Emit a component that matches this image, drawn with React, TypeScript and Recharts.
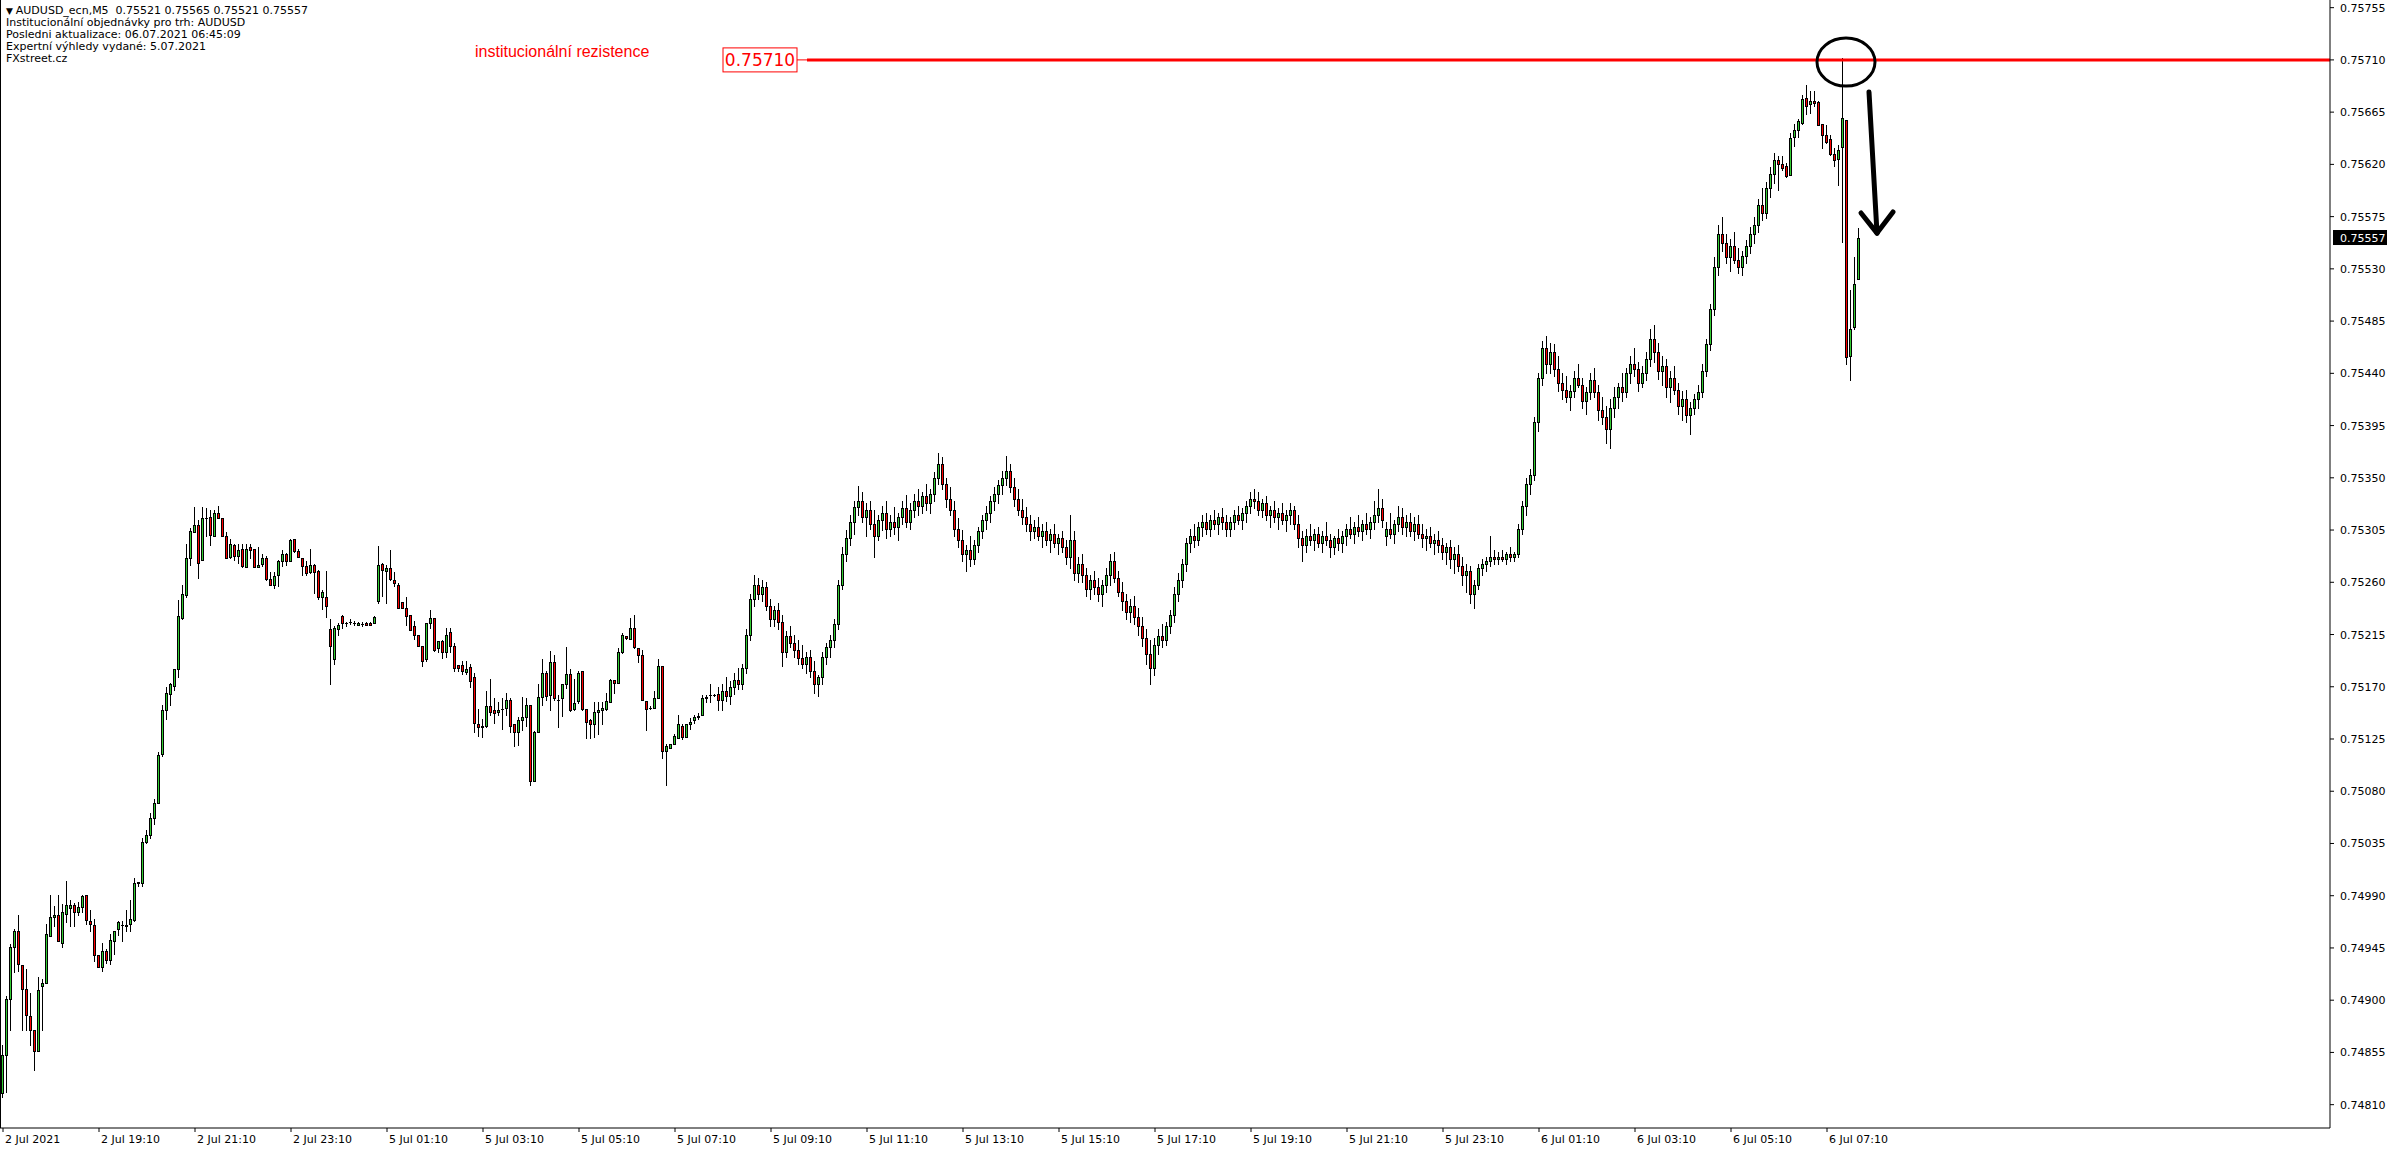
import React from 'react';
import { ComposedChart, Bar, XAxis, YAxis, ReferenceLine, ReferenceDot } from 'recharts';

// AUDUSD M5 candles as [open, high, low, close] in points (1e-5)
// Friday 2 Jul 17:10 - 23:55
const FRI_2JUL = [
[74820,74861,74817,74853],[74853,74904,74821,74901],[74901,74948,74874,74946],[74946,74961,74924,74960],[74960,74973,74925,74931],
[74930,74930,74874,74910],[74910,74927,74874,74887],[74886,74906,74861,74874],[74874,74874,74840,74856],[74856,74920,74856,74909],
[74912,74918,74874,74915],[74915,74966,74915,74957],[74955,74991,74955,74972],[74972,74981,74964,74973],[74973,74991,74951,74951],
[74949,74983,74946,74976],[74974,75003,74967,74982],[74979,74986,74964,74982],[74982,74984,74964,74976],[74976,74985,74973,74980],
[74980,74991,74976,74990],[74991,74991,74966,74969],[74968,74978,74960,74966],[74965,74970,74934,74939],[74939,74939,74929,74929],
[74929,74949,74925,74942],[74942,74944,74932,74935],[74935,74957,74931,74952],[74951,74960,74940,74960],[74961,74968,74956,74967],
[74965,74968,74951,74965],[74965,74978,74960,74964],[74966,74986,74960,74970],[74969,75005,74968,75001],[75001,75002,74998,75002],
[75001,75040,74998,75036],[75036,75047,75035,75042],[75042,75061,75040,75057],[75057,75073,75052,75070],[75070,75114,75070,75111],
[75112,75154,75110,75150],[75150,75170,75142,75165],[75164,75173,75154,75172],[75171,75185,75167,75185],[75185,75245,75178,75231],
[75229,75258,75228,75250],[75249,75293,75247,75281],[75281,75307,75275,75304],[75303,75325,75303,75309],[75309,75314,75264,75277],
[75279,75325,75279,75315],[75315,75324,75300,75315],[75316,75322,75292,75301],[75300,75322,75300,75320],[75320,75326,75315,75315],
[75315,75315,75300,75300],[75300,75303,75281,75281],[75282,75297,75281,75293],[75292,75293,75279,75283],[75283,75293,75277,75288],
[75289,75293,75273,75274],[75273,75293,75273,75289],[75290,75293,75281,75288],[75289,75289,75273,75273],[75273,75290,75273,75275],
[75276,75284,75274,75281],[75281,75283,75262,75263],[75263,75269,75258,75258],[75258,75269,75255,75265],[75266,75279,75257,75278],
[75278,75288,75274,75284],[75284,75285,75275,75278],[75278,75297,75278,75296],[75297,75297,75286,75287],[75287,75289,75282,75282],
[75281,75281,75266,75274],[75274,75278,75266,75268],[75269,75289,75268,75275],[75275,75276,75251,75269],[75270,75271,75246,75247],
[75247,75253,75237,75252],[75247,75270,75230,75240],
];
// Monday 5 Jul 00:00 - 23:55
const MON_5JUL = [
[75220,75228,75172,75205],[75194,75222,75190,75221],[75220,75225,75215,75223],[75231,75232,75221,75225],[75225,75226,75222,75225],
[75226,75228,75224,75226],[75225,75227,75223,75225],[75223,75226,75223,75225],[75224,75226,75222,75224],[75225,75226,75223,75223],
[75225,75226,75223,75223],[75225,75231,75225,75230],[75244,75291,75242,75275],[75276,75277,75248,75271],[75270,75275,75242,75272],
[75272,75288,75262,75263],[75262,75269,75257,75259],[75258,75259,75238,75238],[75243,75243,75238,75238],[75238,75247,75223,75231],
[75232,75232,75219,75219],[75222,75227,75211,75215],[75215,75215,75205,75205],[75205,75205,75188,75192],[75194,75225,75192,75225],
[75225,75236,75221,75229],[75229,75229,75201,75202],[75203,75209,75200,75209],[75209,75210,75195,75200],[75200,75221,75196,75215],
[75217,75221,75200,75205],[75205,75208,75184,75186],[75189,75189,75184,75186],[75189,75192,75181,75184],[75183,75192,75181,75185],
[75187,75190,75170,75175],[75178,75182,75131,75139],[75138,75151,75128,75135],[75135,75142,75127,75136],[75136,75166,75135,75153],
[75153,75177,75146,75148],[75150,75160,75139,75147],[75148,75157,75146,75150],[75151,75160,75134,75151],[75152,75165,75146,75159],
[75159,75160,75131,75136],[75138,75138,75119,75131],[75131,75144,75120,75141],[75141,75161,75133,75144],[75144,75160,75136,75154],
[75154,75154,75085,75089],[75089,75132,75089,75131],[75131,75172,75131,75161],[75161,75194,75154,75182],[75182,75184,75159,75162],
[75163,75201,75150,75191],[75191,75197,75159,75160],[75159,75163,75135,75159],[75160,75172,75145,75172],[75172,75204,75169,75181],
[75181,75185,75149,75150],[75151,75177,75150,75156],[75158,75184,75156,75182],[75184,75184,75150,75151],[75151,75151,75126,75140],
[75141,75142,75126,75138],[75138,75157,75127,75148],[75148,75157,75129,75150],[75150,75157,75138,75152],[75151,75165,75150,75158],
[75157,75177,75157,75176],[75176,75176,75165,75173],[75173,75203,75173,75200],[75200,75216,75199,75215],[75214,75214,75211,75212],
[75211,75229,75211,75221],[75221,75232,75203,75204],[75203,75203,75191,75197],[75197,75202,75159,75159],[75158,75158,75133,75151],
[75152,75153,75151,75152],[75152,75166,75152,75160],[75160,75194,75160,75188],[75188,75188,75109,75115],[75115,75121,75085,75119],
[75117,75121,75117,75121],[75121,75129,75121,75128],[75126,75146,75126,75138],[75136,75138,75125,75127],[75127,75138,75127,75138],
[75138,75143,75134,75140],[75141,75146,75139,75144],[75144,75147,75142,75145],[75146,75163,75146,75160],[75160,75163,75157,75161],
[75163,75172,75157,75163],[75163,75164,75162,75163],[75164,75170,75150,75159],[75159,75172,75150,75166],[75166,75178,75158,75162],
[75162,75175,75155,75170],[75170,75182,75164,75176],[75176,75186,75168,75172],[75172,75190,75168,75186],[75186,75220,75182,75215],
[75215,75250,75210,75246],[75246,75266,75240,75258],[75258,75264,75246,75250],[75250,75262,75244,75256],[75256,75260,75236,75240],
[75240,75246,75222,75228],[75228,75240,75222,75236],[75236,75242,75220,75226],[75226,75232,75188,75200],[75200,75218,75196,75214],
[75214,75222,75204,75208],[75208,75215,75196,75202],[75202,75210,75190,75195],[75195,75206,75186,75190],[75190,75200,75182,75196],
[75196,75202,75178,75184],[75184,75192,75165,75172],[75172,75180,75162,75178],[75178,75200,75172,75196],[75196,75208,75190,75204],
[75204,75215,75196,75210],[75210,75228,75204,75224],[75224,75262,75220,75258],[75258,75290,75254,75284],[75284,75305,75278,75298],
[75298,75318,75292,75312],[75312,75330,75302,75325],[75325,75343,75318,75330],[75330,75338,75312,75316],[75316,75328,75300,75322],
[75322,75330,75306,75310],[75310,75322,75282,75300],[75300,75318,75296,75314],[75314,75326,75305,75320],[75320,75330,75298,75306],
[75306,75318,75300,75312],[75312,75325,75302,75308],[75308,75320,75296,75316],[75316,75330,75310,75324],[75324,75335,75308,75312],
[75312,75328,75306,75322],[75322,75336,75316,75330],[75330,75340,75318,75326],[75326,75338,75320,75334],[75334,75345,75322,75328],
[75328,75340,75320,75336],[75336,75355,75330,75350],[75350,75371,75345,75362],[75362,75368,75340,75345],[75345,75350,75325,75332],
[75332,75342,75318,75322],[75322,75330,75300,75306],[75306,75315,75290,75296],[75296,75305,75278,75284],[75284,75292,75270,75288],
[75288,75300,75274,75280],[75280,75296,75276,75292],[75292,75308,75286,75304],[75304,75318,75298,75314],[75314,75326,75306,75320],
[75320,75334,75312,75330],[75330,75342,75322,75336],[75336,75348,75328,75344],[75344,75356,75336,75350],[75350,75369,75344,75356],
[75356,75362,75338,75342],[75342,75350,75326,75332],[75332,75340,75318,75322],[75322,75332,75310,75316],[75316,75325,75304,75310],
[75310,75318,75296,75304],[75304,75314,75298,75308],[75308,75316,75296,75300],[75300,75310,75290,75304],[75304,75312,75292,75296],
[75296,75306,75286,75302],[75302,75310,75290,75294],[75294,75302,75284,75298],[75298,75304,75286,75290],[75290,75296,75276,75282],
[75282,75318,75272,75296],[75296,75304,75262,75268],[75268,75282,75260,75276],[75276,75284,75260,75266],[75266,75272,75248,75254],
[75254,75266,75246,75262],[75262,75270,75250,75256],[75256,75264,75244,75250],[75250,75262,75240,75258],[75258,75272,75252,75266],
[75266,75284,75258,75278],[75278,75286,75260,75264],[75264,75270,75248,75252],[75252,75260,75236,75244],[75244,75250,75228,75234],
[75234,75246,75226,75240],[75240,75248,75224,75230],[75230,75238,75215,75222],[75222,75230,75205,75212],[75212,75220,75190,75198],
[75198,75210,75172,75186],[75186,75212,75180,75206],[75206,75220,75198,75214],[75214,75224,75204,75210],[75210,75226,75206,75222],
[75222,75236,75216,75232],[75232,75256,75226,75250],[75250,75268,75244,75262],[75262,75280,75256,75276],[75276,75298,75270,75294],
[75294,75306,75286,75300],[75300,75310,75290,75296],[75296,75312,75292,75308],[75308,75318,75300,75312],[75312,75320,75302,75306],
[75306,75318,75300,75314],[75314,75322,75306,75310],[75310,75320,75302,75316],[75316,75324,75306,75312],[75312,75318,75300,75306],
[75306,75316,75300,75312],[75312,75322,75306,75318],[75318,75326,75310,75314],[75314,75324,75306,75320],[75320,75330,75312,75326],
[75326,75338,75320,75332],[75332,75340,75324,75330],[75330,75338,75318,75322],[75322,75332,75316,75328],[75328,75334,75314,75318],
[75318,75326,75308,75322],[75322,75330,75312,75316],[75316,75324,75306,75320],[75320,75328,75310,75314],[75314,75322,75304,75318],
[75318,75328,75310,75322],[75322,75326,75306,75310],[75310,75318,75290,75298],[75298,75304,75278,75292],[75292,75306,75286,75300],
[75300,75310,75292,75296],[75296,75306,75288,75302],[75302,75308,75290,75294],[75294,75304,75286,75300],[75300,75312,75292,75296],
[75296,75302,75282,75290],[75290,75300,75284,75298],[75298,75306,75288,75294],[75294,75304,75286,75300],[75300,75310,75292,75306],
[75306,75316,75298,75302],[75302,75312,75294,75308],[75308,75318,75300,75304],[75304,75314,75296,75310],[75310,75320,75302,75306],
[75306,75316,75298,75312],[75312,75330,75306,75318],[75318,75340,75312,75324],[75324,75332,75308,75314],[75300,75312,75292,75306],
[75306,75320,75298,75302],[75302,75314,75294,75310],[75310,75326,75304,75316],[75316,75324,75302,75308],[75308,75318,75300,75312],
[75312,75320,75300,75304],[75304,75316,75296,75310],[75310,75318,75298,75302],[75302,75310,75290,75298],[75298,75306,75288,75300],
[75300,75308,75290,75294],[75294,75302,75284,75296],[75296,75304,75286,75292],[75292,75298,75280,75286],[75286,75294,75276,75290],
[75290,75296,75272,75280],[75280,75290,75268,75284],[75284,75292,75270,75274],[75274,75282,75258,75266],[75266,75276,75252,75270],
[75270,75274,75242,75250],[75250,75262,75238,75258],[75258,75276,75254,75272],
];
// Tuesday 6 Jul 00:00 - 07:50
const TUE_6JUL = [
[75272,75280,75266,75276],[75276,75282,75270,75278],[75278,75300,75274,75282],[75282,75288,75276,75280],[75280,75286,75276,75282],
[75282,75288,75278,75280],[75280,75286,75276,75284],[75284,75290,75278,75282],[75282,75286,75278,75284],[75284,75310,75282,75306],
[75306,75330,75302,75326],[75326,75350,75318,75345],[75345,75358,75336,75352],[75352,75402,75348,75398],[75398,75440,75390,75436],
[75436,75468,75430,75462],[75462,75472,75440,75448],[75448,75466,75440,75458],[75458,75465,75438,75444],[75444,75455,75425,75432],
[75432,75440,75418,75426],[75426,75438,75415,75420],[75420,75430,75408,75425],[75425,75442,75420,75436],[75436,75448,75428,75430],
[75430,75436,75410,75416],[75416,75428,75405,75424],[75424,75440,75418,75434],[75434,75445,75420,75424],[75424,75430,75400,75408],
[75408,75420,75396,75402],[75402,75412,75380,75392],[75392,75418,75376,75410],[75410,75428,75402,75420],[75420,75432,75410,75428],
[75428,75440,75416,75424],[75424,75445,75420,75440],[75440,75455,75432,75448],[75448,75462,75438,75444],[75444,75450,75425,75432],
[75432,75446,75428,75440],[75440,75458,75434,75452],[75452,75478,75446,75470],[75470,75482,75450,75458],[75458,75466,75435,75442],
[75442,75455,75430,75446],[75446,75452,75420,75428],[75428,75442,75415,75436],[75436,75446,75422,75426],[75426,75432,75405,75412],
[75412,75425,75400,75418],[75418,75426,75398,75404],[75404,75415,75388,75410],[75410,75422,75405,75418],[75418,75430,75410,75424],
[75424,75448,75420,75442],[75442,75470,75438,75465],[75465,75500,75460,75495],[75495,75540,75490,75532],[75532,75568,75525,75560],
[75560,75575,75545,75552],[75552,75560,75535,75540],[75540,75556,75528,75550],[75550,75562,75535,75538],[75538,75548,75526,75532],
[75532,75545,75525,75541],[75541,75555,75535,75550],[75550,75566,75544,75560],[75560,75575,75552,75568],[75568,75590,75562,75585],
[75585,75600,75572,75578],[75578,75605,75574,75600],[75600,75618,75592,75612],[75612,75630,75604,75624],[75624,75627,75598,75620],
[75620,75627,75615,75617],[75619,75621,75609,75610],[75611,75647,75611,75643],[75644,75655,75636,75650],[75650,75659,75644,75657],
[75656,75680,75655,75676],[75677,75688,75663,75670],[75672,75683,75664,75675],[75675,75683,75670,75673],[75674,75675,75654,75654],
[75655,75655,75634,75645],[75645,75654,75638,75639],[75642,75645,75628,75629],[75629,75634,75619,75624],[75625,75637,75602,75632],
[75635,75712,75553,75660],[75658,75658,75448,75454],[75455,75512,75434,75478],[75480,75540,75478,75517],[75521,75565,75521,75557],
];

const Y_TICKS = [0.7481,0.74855,0.749,0.74945,0.7499,0.75035,0.7508,0.75125,0.7517,0.75215,0.7526,0.75305,0.7535,0.75395,0.7544,0.75485,0.7553,0.75575,0.7562,0.75665,0.7571,0.75755];
const X_TICK_BARS = [0,24,48,72,96,120,144,168,192,216,240,264,288,312,336,360,384,408,432,456];
const X_TICK_LABELS = ['2 Jul 2021','2 Jul 19:10','2 Jul 21:10','2 Jul 23:10','5 Jul 01:10','5 Jul 03:10','5 Jul 05:10','5 Jul 07:10','5 Jul 09:10','5 Jul 11:10','5 Jul 13:10','5 Jul 15:10','5 Jul 17:10','5 Jul 19:10','5 Jul 21:10','5 Jul 23:10','6 Jul 01:10','6 Jul 03:10','6 Jul 05:10','6 Jul 07:10'];
const HEADER = ['AUDUSD_ecn,M5  0.75521 0.75565 0.75521 0.75557','Institucionální objednávky pro trh: AUDUSD','Posledni aktualizace: 06.07.2021 06:45:09','Expertní výhledy vydané: 5.07.2021','FXstreet.cz'];
const RESISTANCE = 0.7571;
const LAST_PRICE = 0.75557;

const CANDLES = [...FRI_2JUL, ...MON_5JUL, ...TUE_6JUL];
const data = CANDLES.map(([o, h, l, c], i) => ({
  i,
  o: o / 1e5,
  h: h / 1e5,
  l: l / 1e5,
  c: c / 1e5,
  range: [l / 1e5, h / 1e5],
}));

const BULL = '#32CD32';
const BEAR = '#FF0000';
const FONT = '"DejaVu Sans", sans-serif';

const Candle = (props: any) => {
  const { x, y, width, height, payload } = props;
  if (payload == null || x == null) return null;
  const { o, h, l, c } = payload;
  const cx = Math.round(x + width / 2) - 1;
  const k = h > l ? height / (h - l) : 0;
  const py = (p: number) => y + (h - p) * k;
  const yh = Math.round(py(h));
  const yl = Math.round(py(l));
  const bt = Math.round(py(Math.max(o, c)));
  const bb = Math.round(py(Math.min(o, c)));
  const bull = c >= o;
  return (
    <g>
      <line x1={cx + 0.5} x2={cx + 0.5} y1={yh} y2={yl + 1} stroke="#000" strokeWidth={1} />
      {bb - bt < 1 ? (
        <line x1={cx - 1} x2={cx + 2} y1={bt + 0.5} y2={bt + 0.5} stroke="#000" strokeWidth={1} />
      ) : (
        <rect x={cx - 0.5} y={bt + 0.5} width={2} height={bb - bt} fill={bull ? BULL : BEAR} stroke="#000" strokeWidth={1} />
      )}
    </g>
  );
};

const XTick = (props: any) => {
  const { x, y, payload } = props;
  const idx = X_TICK_BARS.indexOf(payload.value);
  return (
    <text x={x + 2} y={y + 9} textAnchor="start" fontFamily={FONT} fontSize={11} fill="#000">
      {X_TICK_LABELS[idx]}
    </text>
  );
};

const YTick = (props: any) => {
  const { x, y, payload } = props;
  return (
    <text x={x} y={y + 4} textAnchor="start" fontFamily={FONT} fontSize={11} fill="#000">
      {Number(payload.value).toFixed(5)}
    </text>
  );
};

const Ellipse = (props: any) => (
  <ellipse cx={props.cx} cy={props.cy} rx={29} ry={24} fill="none" stroke="#000" strokeWidth={3} />
);

const ResLabel = (props: any) => (
  <g>
    <rect x={props.cx - 74} y={props.cy - 12} width={74} height={24} fill="#fff" stroke="#FF0000" strokeWidth={1} />
    <text x={props.cx - 37} y={props.cy + 6} textAnchor="middle" fontFamily={FONT} fontSize={17} fill="#FF0000">
      {RESISTANCE.toFixed(5)}
    </text>
    <line x1={props.cx} x2={props.cx + 10} y1={props.cy} y2={props.cy} stroke="#FF0000" strokeWidth={1} />
  </g>
);

const ResText = (props: any) => (
  <text x={props.cx} y={props.cy + 5} textAnchor="start" fontFamily='"Liberation Sans", Arial, sans-serif' fontSize={16} fill="#FF0000">
    institucionální rezistence
  </text>
);

const LastPriceLabel = (props: any) => {
  const vb = props.viewBox || {};
  const x0 = vb.x + vb.width + 3;
  const yc = vb.y;
  return (
    <g>
      <rect x={x0} y={yc - 7.5} width={54} height={15} fill="#000" />
      <text x={x0 + 7} y={yc + 4} fontFamily={FONT} fontSize={11} fill="#fff">{LAST_PRICE.toFixed(5)}</text>
    </g>
  );
};

export default function App() {
  return (
    <div style={{ position: 'relative', width: 2396, height: 1154, background: '#fff' }}>
      <style>{'body{margin:0;background:#fff;}'}</style>
      <ComposedChart width={2396} height={1154} data={data} margin={{ top: 0, right: 0, bottom: 0, left: 0 }} barSize={3}>
        <XAxis
          dataKey="i"
          type="number"
          domain={[-0.75, 581.75]}
          ticks={X_TICK_BARS}
          tick={<XTick />}
          height={26}
          axisLine={{ stroke: '#000' }}
          tickLine={{ stroke: '#000' }}
          tickSize={4}
          allowDataOverflow
          interval={0}
        />
        <YAxis
          orientation="right"
          type="number"
          domain={[0.747899, 0.757616]}
          ticks={Y_TICKS}
          tick={<YTick />}
          width={66}
          axisLine={{ stroke: '#000' }}
          tickLine={{ stroke: '#000' }}
          tickSize={4}
          tickMargin={6}
          allowDataOverflow
          interval={0}
        />
        <ReferenceLine x={-0.75} stroke="#000" strokeWidth={2} />
        <Bar dataKey="range" shape={<Candle />} isAnimationActive={false} />
        <ReferenceLine segment={[{ x: 201, y: RESISTANCE }, { x: 581.75, y: RESISTANCE }]} stroke="#FF0000" strokeWidth={3} />
        <ReferenceDot x={198.5} y={RESISTANCE} shape={<ResLabel />} ifOverflow="visible" />
        <ReferenceDot x={118} y={0.757168} shape={<ResText />} ifOverflow="visible" />
        <ReferenceDot x={460.75} y={0.757081} shape={<Ellipse />} ifOverflow="visible" />
        <ReferenceLine segment={[{ x: 466.5, y: 0.756823 }, { x: 468.5, y: 0.755608 }]} stroke="#000" strokeWidth={5} strokeLinecap="round" />
        <ReferenceLine segment={[{ x: 464.5, y: 0.755781 }, { x: 468.5, y: 0.755608 }]} stroke="#000" strokeWidth={5} strokeLinecap="round" />
        <ReferenceLine segment={[{ x: 472.5, y: 0.75579 }, { x: 468.5, y: 0.755608 }]} stroke="#000" strokeWidth={5} strokeLinecap="round" />
        <ReferenceLine y={LAST_PRICE} stroke="none" label={<LastPriceLabel />} ifOverflow="visible" />
      </ComposedChart>
      <div style={{ position: 'absolute', left: 6, top: 5, fontFamily: FONT, fontSize: 11, lineHeight: '12px', color: '#000', whiteSpace: 'pre' }}>
        {HEADER.map((t, k) => (
          <div key={k}>{k === 0 ? <span style={{ fontSize: 9 }}>{'▼ '}</span> : null}{t}</div>
        ))}
      </div>
    </div>
  );
}
